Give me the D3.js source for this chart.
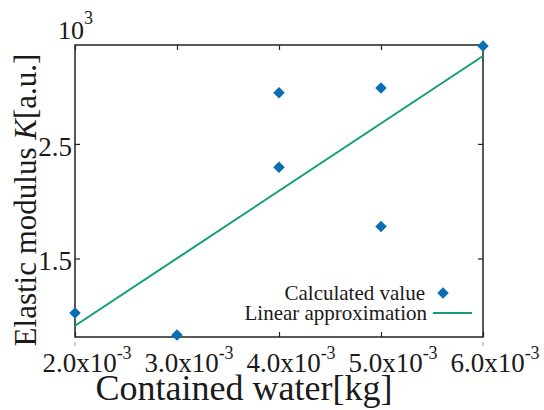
<!DOCTYPE html>
<html>
<head>
<meta charset="utf-8">
<script src="https://cdn.jsdelivr.net/npm/d3@7"></script>
<style>
html,body{margin:0;padding:0;background:#fff;}
text{font-family:"Liberation Serif","Times New Roman",serif;fill:#1a1a1a;}
</style>
</head>
<body>
<svg id="chart" width="544" height="410"></svg>
<script>
// ---- data ----
const waterKg = [0.002, 0.003, 0.004, 0.004, 0.005, 0.005, 0.006];
const modulusK = [1.024, 0.832, 2.947, 2.297, 2.988, 1.779, 3.354]; // x10^3
const fitX = [0.002, 0.006];
const fitY = [0.913, 3.267];
const xTicks = [0.002, 0.003, 0.004, 0.005, 0.006];
const xTickLabels = ["2.0x10", "3.0x10", "4.0x10", "5.0x10", "6.0x10"];
const yTicks = [1.5, 2.5];
const yTickLabels = ["1.5", "2.5"];
const seriesNames = ["Calculated value", "Linear approximation"];

const blue = "#0a6eb4", green = "#119e76";
const svg = d3.select("#chart");
const L = 75, R = 483, T = 45, B = 337;
const x = d3.scaleLinear().domain([0.002, 0.006]).range([L, R]);
const y = d3.scaleLinear().domain([0.815, 3.363]).range([B, T]);

// frame
svg.append("rect").attr("x", L).attr("y", T).attr("width", R - L).attr("height", B - T)
  .attr("fill", "none").attr("stroke", "#222").attr("stroke-width", 1.5);

// inward ticks via d3 axes
const tl = 5;
const gB = svg.append("g").attr("transform", `translate(0,${B})`)
  .call(d3.axisBottom(x).tickValues(xTicks).tickSize(-tl).tickFormat(""));
const gT = svg.append("g").attr("transform", `translate(0,${T})`)
  .call(d3.axisTop(x).tickValues(xTicks).tickSize(-tl).tickFormat(""));
const gL = svg.append("g").attr("transform", `translate(${L},0)`)
  .call(d3.axisLeft(y).tickValues(yTicks).tickSize(-tl).tickFormat(""));
const gR = svg.append("g").attr("transform", `translate(${R},0)`)
  .call(d3.axisRight(y).tickValues(yTicks).tickSize(-tl).tickFormat(""));
[gB, gT, gL, gR].forEach(g => {
  g.select(".domain").remove();
  g.selectAll("line").attr("stroke", "#222").attr("stroke-width", 1.2);
});
// small gray outer marks at x-range ends
svg.append("g").selectAll("line").data(x.domain()).join("line")
  .attr("x1", d => x(d)).attr("x2", d => x(d)).attr("y1", B + 5).attr("y2", B + 9)
  .attr("stroke", "#999").attr("stroke-width", 1);

// x tick labels
const xl = svg.append("g").selectAll("text").data(xTicks).join("text")
  .attr("x", d => x(d) + 12).attr("y", 372).attr("text-anchor", "middle")
  .attr("font-size", 27);
xl.append("tspan").text((d, i) => xTickLabels[i]);
xl.append("tspan").attr("dy", -13).attr("font-size", 18).text("-3");

// y tick labels
svg.append("g").selectAll("text").data(yTicks).join("text")
  .attr("x", L - 3).attr("y", d => y(d) + 12).attr("text-anchor", "end")
  .attr("font-size", 27).text((d, i) => yTickLabels[i]);

// multiplier
const mult = svg.append("text").attr("x", 58).attr("y", 39).attr("font-size", 26);
mult.append("tspan").text("10");
mult.append("tspan").attr("dy", -15).attr("font-size", 18).text("3");

// axis titles
svg.append("text").attr("x", 244).attr("y", 400).attr("text-anchor", "middle")
  .attr("font-size", 36).text("Contained water[kg]");
const yt = svg.append("text").attr("transform", "translate(36,200) rotate(-90)")
  .attr("text-anchor", "middle").attr("font-size", 31);
yt.append("tspan").text("Elastic modulus ");
yt.append("tspan").attr("font-style", "italic").text("K");
yt.append("tspan").text("[a.u.]");

// fit line
const line = d3.line().x(d => x(d[0])).y(d => y(d[1]));
svg.append("path").datum(d3.zip(fitX, fitY)).attr("d", line)
  .attr("fill", "none").attr("stroke", green).attr("stroke-width", 2);

// points
const diamond = d3.symbol().type(d3.symbolSquare).size(66);
svg.append("g").selectAll("path").data(d3.zip(waterKg, modulusK)).join("path")
  .attr("d", diamond())
  .attr("transform", d => `translate(${x(d[0])},${y(d[1])}) rotate(45)`)
  .attr("fill", blue);

// legend
svg.append("text").attr("x", 425).attr("y", 300).attr("text-anchor", "end")
  .attr("font-size", 21).text(seriesNames[0]);
svg.append("text").attr("x", 427).attr("y", 320).attr("text-anchor", "end")
  .attr("font-size", 21).text(seriesNames[1]);
svg.append("path").attr("d", diamond()).attr("transform", "translate(443,293) rotate(45)").attr("fill", blue);
svg.append("line").attr("x1", 433).attr("x2", 472).attr("y1", 313).attr("y2", 313)
  .attr("stroke", green).attr("stroke-width", 2);
</script>
</body>
</html>
